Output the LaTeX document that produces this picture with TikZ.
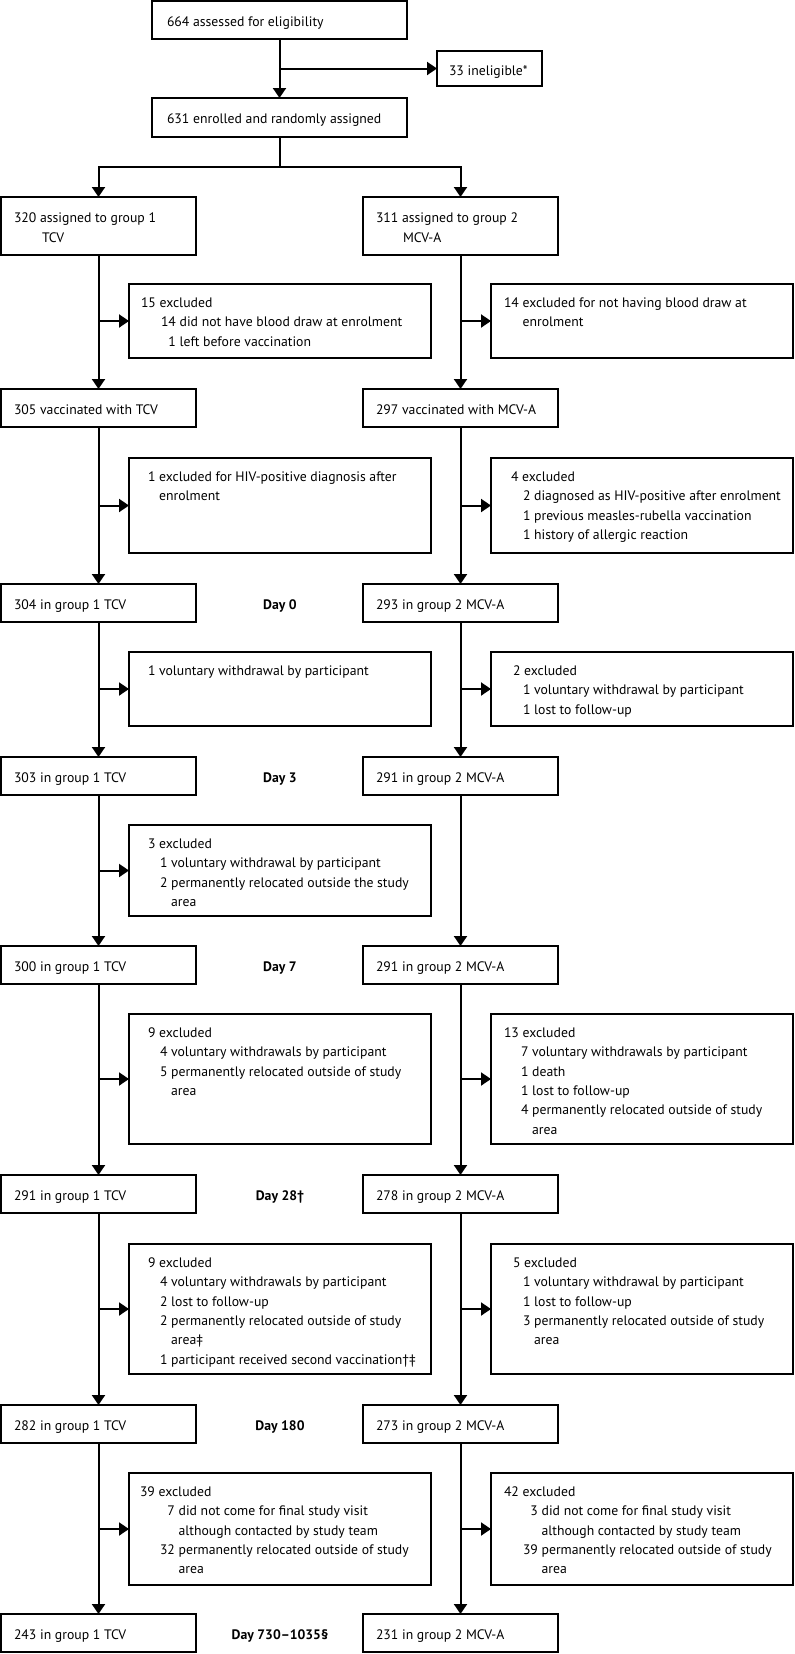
\documentclass[tikz,border=0pt]{standalone}
\usepackage{fontspec}
\setmainfont{PT Sans}
\usetikzlibrary{arrows.meta}
\newdimen\px \px=0.75pt
\newcommand\li[2]{\hbox{\kern#1\px #2}}
\newcommand\lns[1]{\vtop{\baselineskip=19.3\px \lineskiplimit=-20pt #1}}
\newcommand\bx[5]{\node[bx, minimum width={(#4-#2)*0.75pt}, minimum height={(#5-#3)*0.75pt}] (#1) at ({(#2+#4)/2},{(#3+#5)/2}) {};}
\tikzset{
  x=0.75pt, y=-0.75pt,
  bx/.style={draw, line width=1.5pt, rectangle, inner sep=0pt, outer sep=0pt},
  txt/.style={anchor=base west, inner sep=0pt, outer sep=0pt, font=\fontsize{10.3}{12.4}\selectfont},
  daylbl/.style={anchor=base, inner sep=0pt, outer sep=0pt, font=\fontsize{10.3}{12.4}\selectfont\bfseries},
  arr/.style={line width=1.5pt, -{Triangle[length=7.5pt,width=9.75pt]}},
}
\begin{document}
\begin{tikzpicture}
\useasboundingbox (0,0) rectangle (794,1654);
% boxes
\bx{top}{152}{1}{407}{39}
\bx{inel}{437}{51}{542}{86}
\bx{enr}{152}{98}{407}{137}
\bx{g1}{1}{197}{196}{255}
\bx{g2}{363}{197}{558}{255}
\bx{v1}{1}{389}{196}{427}
\bx{v2}{363}{389}{558}{427}
\bx{d0l}{1}{584}{196}{622}
\bx{d0r}{363}{584}{558}{622}
\bx{d3l}{1}{757}{196}{795}
\bx{d3r}{363}{757}{558}{795}
\bx{d7l}{1}{946}{196}{984}
\bx{d7r}{363}{946}{558}{984}
\bx{d28l}{1}{1175}{196}{1213}
\bx{d28r}{363}{1175}{558}{1213}
\bx{d180l}{1}{1405}{196}{1443}
\bx{d180r}{363}{1405}{558}{1443}
\bx{d730l}{1}{1614}{196}{1652}
\bx{d730r}{363}{1614}{558}{1652}
\bx{e1l}{129}{284}{431}{358}
\bx{e1r}{491}{284}{793}{358}
\bx{e2l}{129}{458}{431}{553}
\bx{e2r}{491}{458}{793}{553}
\bx{e3l}{129}{652}{431}{726}
\bx{e3r}{491}{652}{793}{726}
\bx{e4l}{129}{825}{431}{916}
\bx{e5l}{129}{1014}{431}{1144}
\bx{e5r}{491}{1014}{793}{1144}
\bx{e6l}{129}{1244}{431}{1374}
\bx{e6r}{491}{1244}{793}{1374}
\bx{e7l}{129}{1473}{431}{1585}
\bx{e7r}{491}{1473}{793}{1585}
% main texts
\node[txt] (ttop) at (167,26.5) {664 assessed for eligibility};
\node[txt] (tinel) at (449,75) {33 ineligible*};
\node[txt] (tenr) at (167,123.5) {631 enrolled and randomly assigned};
\node[txt] (tg1) at (14,222.7) {\lns{\li{0}{320 assigned to group 1}\li{28}{TCV}}};
\node[txt] (tg2) at (376,222.7) {\lns{\li{0}{311 assigned to group 2}\li{27}{MCV-A}}};
\node[txt] (tv1) at (14,414) {305 vaccinated with TCV};
\node[txt] (tv2) at (376,414) {297 vaccinated with MCV-A};
\node[txt] (td0l) at (14,609) {304 in group 1 TCV};
\node[txt] (td0r) at (376,609) {293 in group 2 MCV-A};
\node[txt] (td3l) at (14,782) {303 in group 1 TCV};
\node[txt] (td3r) at (376,782) {291 in group 2 MCV-A};
\node[txt] (td7l) at (14,971) {300 in group 1 TCV};
\node[txt] (td7r) at (376,971) {291 in group 2 MCV-A};
\node[txt] (td28l) at (14,1200) {291 in group 1 TCV};
\node[txt] (td28r) at (376,1200) {278 in group 2 MCV-A};
\node[txt] (td180l) at (14,1430) {282 in group 1 TCV};
\node[txt] (td180r) at (376,1430) {273 in group 2 MCV-A};
\node[txt] (td730l) at (14,1639) {243 in group 1 TCV};
\node[txt] (td730r) at (376,1639) {231 in group 2 MCV-A};
% day labels
\node[daylbl] (day0) at (280,609) {Day 0};
\node[daylbl] (day3) at (280,782) {Day 3};
\node[daylbl] (day7) at (280,971) {Day 7};
\node[daylbl] (day28) at (280,1200) {Day 28†};
\node[daylbl] (day180) at (280,1430) {Day 180};
\node[daylbl] (day730) at (280,1639) {Day 730–1035§};
% exclusion texts
\node[txt] (te1l) at (129,307.5) {\lns{%
  \li{12}{15 excluded}%
  \li{32}{14 did not have blood draw at enrolment}%
  \li{32}{\phantom{1}1 left before vaccination}}};
\node[txt] (te1r) at (491,307.5) {\lns{%
  \li{13}{14 excluded for not having blood draw at}%
  \li{13}{\phantom{14 }enrolment}}};
\node[txt] (te2l) at (129,481.5) {\lns{%
  \li{19}{1 excluded for HIV-positive diagnosis after}%
  \li{19}{\phantom{1 }enrolment}}};
\node[txt] (te2r) at (491,481.5) {\lns{%
  \li{20}{4 excluded}%
  \li{32}{2 diagnosed as HIV-positive after enrolment}%
  \li{32}{1 previous measles-rubella vaccination}%
  \li{32}{1 history of allergic reaction}}};
\node[txt] (te3l) at (129,675.5) {\lns{%
  \li{19}{1 voluntary withdrawal by participant}}};
\node[txt] (te3r) at (491,675.5) {\lns{%
  \li{22}{2 excluded}%
  \li{32}{1 voluntary withdrawal by participant}%
  \li{32}{1 lost to follow-up}}};
\node[txt] (te4l) at (129,848.5) {\lns{%
  \li{19}{3 excluded}%
  \li{31}{1 voluntary withdrawal by participant}%
  \li{31}{2 permanently relocated outside the study}%
  \li{31}{\phantom{2 }area}}};
\node[txt] (te5l) at (129,1037.5) {\lns{%
  \li{19}{9 excluded}%
  \li{31}{4 voluntary withdrawals by participant}%
  \li{31}{5 permanently relocated outside of study}%
  \li{31}{\phantom{5 }area}}};
\node[txt] (te5r) at (491,1037.5) {\lns{%
  \li{13}{13 excluded}%
  \li{30}{7 voluntary withdrawals by participant}%
  \li{30}{1 death}%
  \li{30}{1 lost to follow-up}%
  \li{30}{4 permanently relocated outside of study}%
  \li{30}{\phantom{4 }area}}};
\node[txt] (te6l) at (129,1267.5) {\lns{%
  \li{19}{9 excluded}%
  \li{31}{4 voluntary withdrawals by participant}%
  \li{31}{2 lost to follow-up}%
  \li{31}{2 permanently relocated outside of study}%
  \li{31}{\phantom{2 }area‡}%
  \li{31}{1 participant received second vaccination†‡}}};
\node[txt] (te6r) at (491,1267.5) {\lns{%
  \li{22}{5 excluded}%
  \li{32}{1 voluntary withdrawal by participant}%
  \li{32}{1 lost to follow-up}%
  \li{32}{3 permanently relocated outside of study}%
  \li{32}{\phantom{3 }area}}};
\node[txt] (te7l) at (129,1496.5) {\lns{%
  \li{11}{39 excluded}%
  \li{31}{\phantom{3}7 did not come for final study visit}%
  \li{31}{\phantom{32 }although contacted by study team}%
  \li{31}{32 permanently relocated outside of study}%
  \li{31}{\phantom{32 }area}}};
\node[txt] (te7r) at (491,1496.5) {\lns{%
  \li{13}{42 excluded}%
  \li{32}{\phantom{3}3 did not come for final study visit}%
  \li{32}{\phantom{39 }although contacted by study team}%
  \li{32}{39 permanently relocated outside of study}%
  \li{32}{\phantom{39 }area}}};
% connectors
\draw[arr] (top.south) -- (enr.north);
\draw[arr] (top.south |- inel.west) -- (inel.west);
\coordinate (split) at (279.5,167);
\draw[arr] (enr.south) -- (split) -| (g1.north);
\draw[arr] (split) -| (g2.north);
\foreach \a/\b/\e in {g1/v1/e1l, v1/d0l/e2l, d0l/d3l/e3l, d3l/d7l/e4l, d7l/d28l/e5l, d28l/d180l/e6l, d180l/d730l/e7l, g2/v2/e1r, v2/d0r/e2r, d0r/d3r/e3r, d7r/d28r/e5r, d28r/d180r/e6r, d180r/d730r/e7r}{
  \draw[arr] (\a.south) -- (\b.north);
  \draw[arr] (\a.south |- \e.west) -- (\e.west);
}
\draw[arr] (d3r.south) -- (d7r.north);
\end{tikzpicture}
\end{document}
